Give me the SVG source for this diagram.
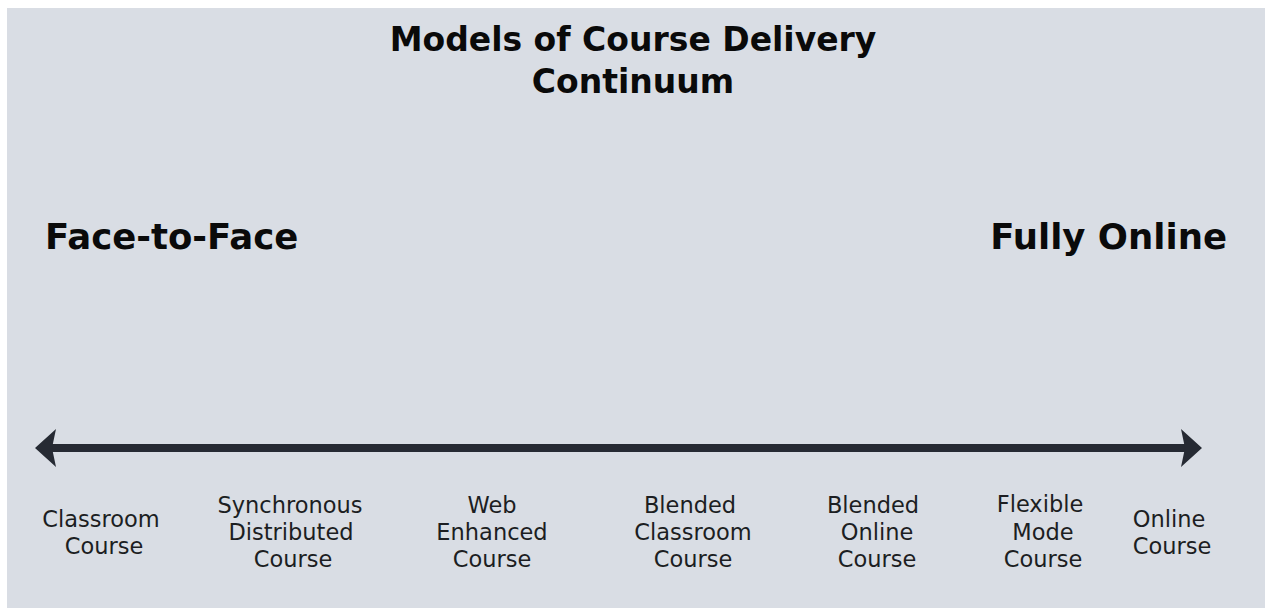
<svg xmlns="http://www.w3.org/2000/svg" width="1265" height="608" viewBox="0 0 1265 608">
  <style>
    .title { font-family: "DejaVu Sans", Verdana, sans-serif; font-weight: bold; fill: #0a0a0a; text-anchor: middle; }
    .pole { font-family: "DejaVu Sans", Verdana, sans-serif; font-weight: bold; font-size: 35.5px; fill: #0a0a0a; }
    .label { font-family: "DejaVu Sans", Verdana, sans-serif; font-size: 22.5px; fill: #1c1e22; text-anchor: middle; }
    .axis { stroke: #262a33; stroke-width: 8; fill: none; }
    .head { fill: #262a33; }
  </style>
  <defs>
    <!-- dart-shaped arrowhead pointing right, tip at the origin -->
    <path id="dart" d="M0,0 L-21,-19 L-17,0 L-21,19 Z"/>
  </defs>

  <rect x="0" y="0" width="1265" height="608" fill="#ffffff"/>
  <rect x="7" y="8" width="1258" height="600" fill="#d9dde4"/>

  <g id="title">
    <text class="title" x="633" y="51" font-size="33">Models of Course Delivery</text>
    <text class="title" x="633" y="93" font-size="33">Continuum</text>
  </g>

  <g id="pole-face-to-face">
    <text class="pole" x="45" y="249">Face-to-Face</text>
  </g>
  <g id="pole-fully-online">
    <text class="pole" x="1227" y="249" text-anchor="end">Fully Online</text>
  </g>

  <g id="connectors">
    <line class="axis" x1="50" y1="448" x2="1186" y2="448"/>
    <use href="#dart" class="head" transform="translate(1202,448)"/>
    <use href="#dart" class="head" transform="translate(35,448) scale(-1,1)"/>
  </g>

  <g id="classroom-course">
    <text class="label" x="101" y="527">Classroom</text>
    <text class="label" x="104" y="554">Course</text>
  </g>
  <g id="synchronous-distributed-course">
    <text class="label" x="290" y="513">Synchronous</text>
    <text class="label" x="291" y="540">Distributed</text>
    <text class="label" x="293" y="567">Course</text>
  </g>
  <g id="web-enhanced-course">
    <text class="label" x="492" y="513">Web</text>
    <text class="label" x="492" y="540">Enhanced</text>
    <text class="label" x="492" y="567">Course</text>
  </g>
  <g id="blended-classroom-course">
    <text class="label" x="690" y="513">Blended</text>
    <text class="label" x="693" y="540">Classroom</text>
    <text class="label" x="693" y="567">Course</text>
  </g>
  <g id="blended-online-course">
    <text class="label" x="873" y="513">Blended</text>
    <text class="label" x="877" y="540">Online</text>
    <text class="label" x="877" y="567">Course</text>
  </g>
  <g id="flexible-mode-course">
    <text class="label" x="1040" y="512">Flexible</text>
    <text class="label" x="1043" y="540">Mode</text>
    <text class="label" x="1043" y="567">Course</text>
  </g>
  <g id="online-course">
    <text class="label" x="1169" y="527">Online</text>
    <text class="label" x="1172" y="554">Course</text>
  </g>
</svg>
